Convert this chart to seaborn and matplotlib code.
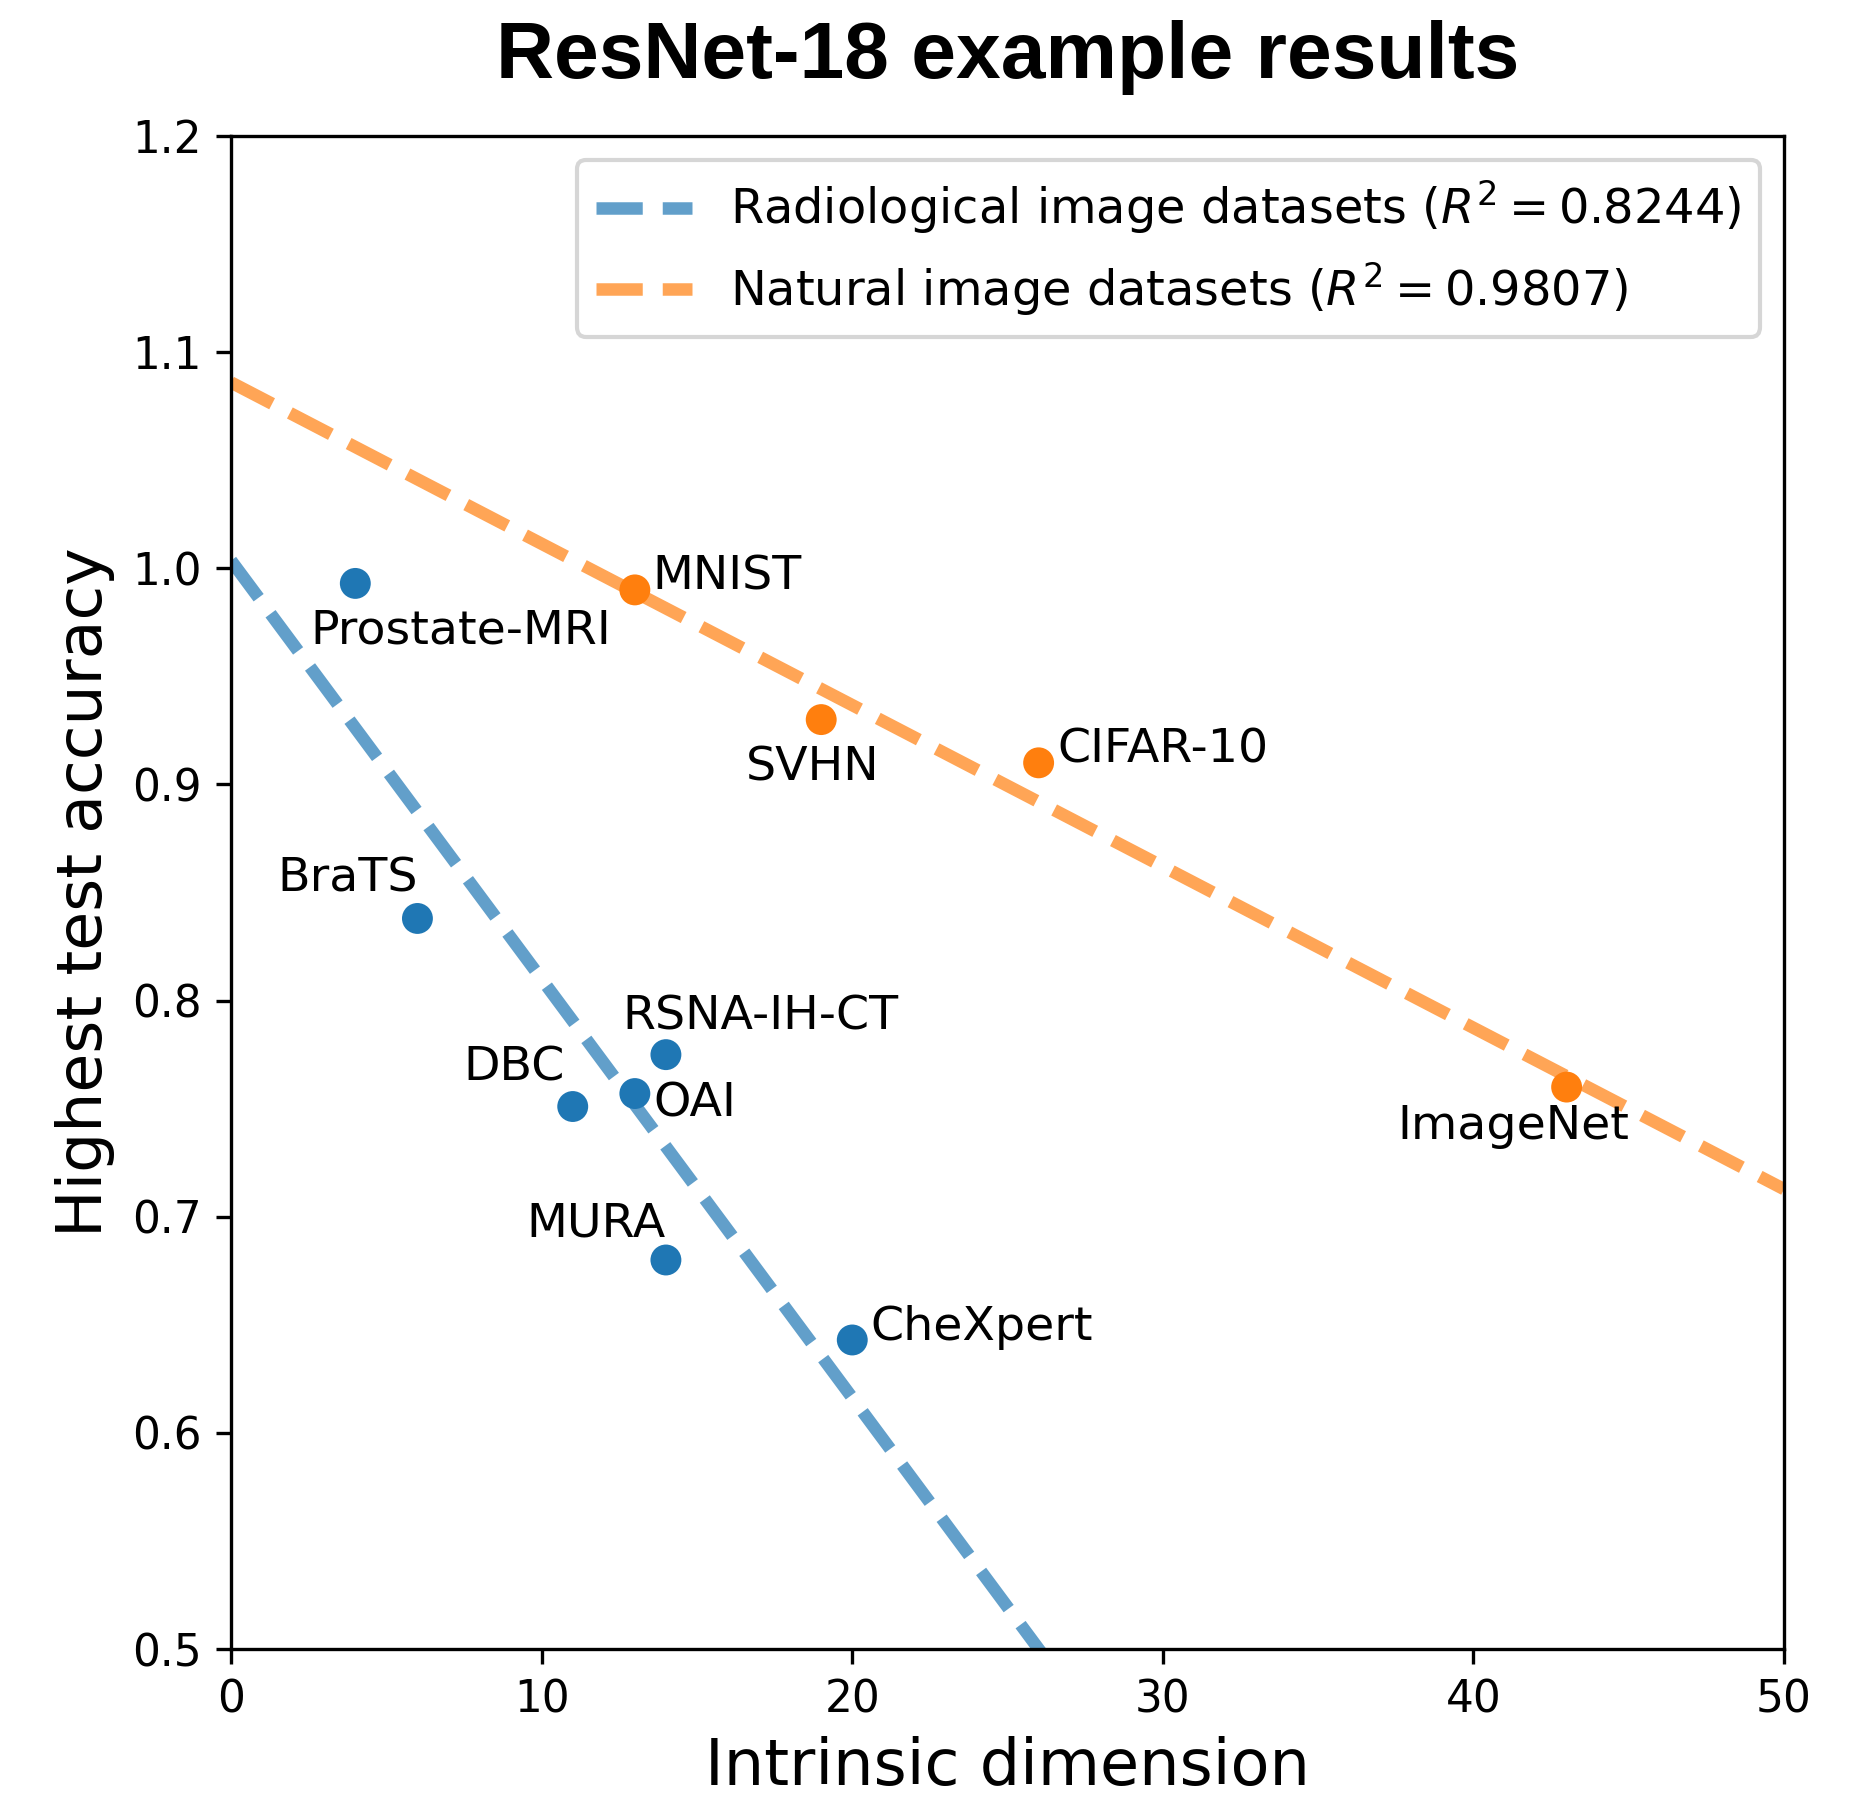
import numpy as np
import pandas as pd
import matplotlib
matplotlib.use("Agg")
import matplotlib.pyplot as plt
import seaborn as sns

# ---- data ----
rad_names = ["Prostate-MRI", "BraTS", "DBC", "OAI", "RSNA-IH-CT", "MURA", "CheXpert"]
rad_dim = [4, 6, 11, 13, 14, 14, 20]
rad_acc = [0.993, 0.838, 0.751, 0.757, 0.775, 0.680, 0.643]

nat_names = ["MNIST", "SVHN", "CIFAR-10", "ImageNet"]
nat_dim = [13, 19, 26, 43]
nat_acc = [0.990, 0.930, 0.910, 0.760]

rad_r2 = "0.8244"
nat_r2 = "0.9807"

title = "ResNet-18 example results"
xlabel = "Intrinsic dimension"
ylabel = "Highest test accuracy"
xticks = [0, 10, 20, 30, 40, 50]
yticks = [0.5, 0.6, 0.7, 0.8, 0.9, 1.0, 1.1, 1.2]

# label offsets in points (dx, dy, ha)
label_offsets = {
    "Prostate-MRI": (-10.7, -14.4, "left"),
    "BraTS": (0.0, 6.4, "right"),
    "DBC": (-2.0, 6.3, "right"),
    "OAI": (4.4, -5.4, "left"),
    "RSNA-IH-CT": (-10.5, 6.1, "left"),
    "MURA": (0.0, 5.6, "right"),
    "CheXpert": (4.3, 0.0, "left"),
    "MNIST": (4.3, 0.0, "left"),
    "SVHN": (-18.1, -14.6, "left"),
    "CIFAR-10": (4.4, 0.0, "left"),
    "ImageNet": (-40.6, -12.5, "left"),
}

blue = "#1f77b4"
orange = "#ff7f0e"

df = pd.DataFrame({
    "name": rad_names + nat_names,
    "dim": rad_dim + nat_dim,
    "acc": rad_acc + nat_acc,
    "group": ["rad"] * len(rad_names) + ["nat"] * len(nat_names),
})

fig = plt.figure(figsize=(1865 / 300, 1796 / 300), dpi=300)
ax = fig.add_axes([0.1239, 0.0818, 0.8327, 0.8425])

# regression lines
xs = np.array([0, 50], dtype=float)
for dims, accs, col, lab in [
    (rad_dim, rad_acc, blue, r"Radiological image datasets ($R^2=%s$)" % rad_r2),
    (nat_dim, nat_acc, orange, r"Natural image datasets ($R^2=%s$)" % nat_r2),
]:
    m, b = np.polyfit(dims, accs, 1)
    sns.lineplot(x=xs, y=m * xs + b, ax=ax, color=col, alpha=0.7, linewidth=3,
                 linestyle="--", label=lab)

sns.scatterplot(data=df, x="dim", y="acc", hue="group",
                palette={"rad": blue, "nat": orange}, s=55, linewidth=0,
                ax=ax, legend=False, zorder=3)

for _, r in df.iterrows():
    dx, dy, ha = label_offsets[r["name"]]
    ax.annotate(r["name"], (r["dim"], r["acc"]), xytext=(dx, dy),
                textcoords="offset points", ha=ha, va="baseline", fontsize=11.4)

ax.set_xlim(0, 50)
ax.set_ylim(0.5, 1.2)
ax.set_xticks(xticks)
ax.set_yticks(yticks)
ax.set_xticklabels([str(t) for t in xticks])
ax.set_yticklabels(["%.1f" % t for t in yticks])
ax.tick_params(labelsize=10.5)
ax.set_xlabel(xlabel, fontsize=15.3, labelpad=3.5)
ax.set_ylabel(ylabel, fontsize=15.2)
ax.set_title(title, fontsize=19.3, fontweight="bold", family="Liberation Sans", pad=14)

ax.legend(loc="upper right", fontsize=11.5)

fig.savefig("out.png", dpi=300)
